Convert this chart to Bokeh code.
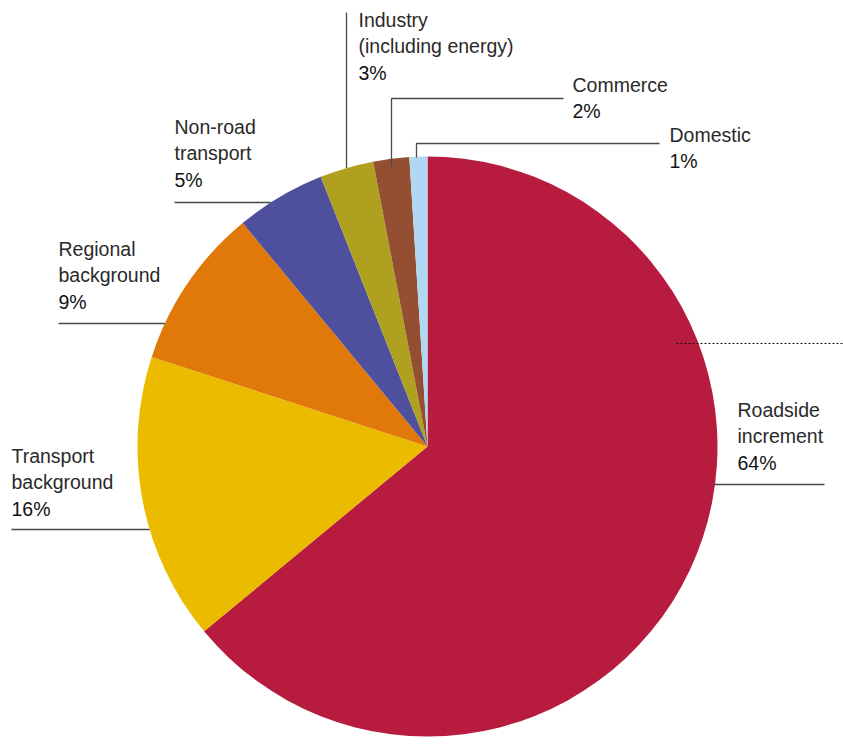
import math
from bokeh.plotting import figure
from bokeh.models import Range1d, ColumnDataSource
from bokeh.core.properties import value
from bokeh.embed import file_html
from bokeh.resources import INLINE

# ---- data ----
categories = ["Roadside increment", "Transport background", "Regional background",
              "Non-road transport", "Industry (including energy)", "Commerce", "Domestic"]
label_lines = [["Roadside", "increment"], ["Transport", "background"], ["Regional", "background"],
               ["Non-road", "transport"], ["Industry", "(including energy)"], ["Commerce"], ["Domestic"]]
shares = [64, 16, 9, 5, 3, 2, 1]
colors = ["#B71C3F", "#EBBB00", "#E0790A", "#4F509D", "#AFA020", "#944F32", "#B0D8F2"]

W, H = 843, 747
def fx(px):
    return px
def fy(py):
    return H - py

p = figure(width=W, height=H, x_range=Range1d(0, W), y_range=Range1d(0, H),
           output_backend="svg", toolbar_location=None, min_border=0)
p.axis.visible = False
p.grid.visible = False
p.outline_line_color = None
p.background_fill_color = "white"

cx, cy, r = fx(427), fy(446), 290
total = sum(shares)
starts, ends = [], []
c = 0
for v in shares:
    starts.append(math.pi / 2 - 2 * math.pi * c / total)
    c += v
    ends.append(math.pi / 2 - 2 * math.pi * c / total)

src = ColumnDataSource(dict(start=starts, end=ends, color=colors, cat=categories))
p.wedge(x=cx, y=cy, radius=r, start_angle="start", end_angle="end", direction="clock",
        fill_color="color", line_color=None, source=src)

def edge_y(px):
    dx = px - 427
    return 446 - math.sqrt(r * r - dx * dx)

def edge_x_left(py):
    dy = py - 446
    return 427 - math.sqrt(r * r - dy * dy)

lc = "#4a4a4a"
lw = 1.3
segs = [
    ([713, 824], [484, 484]),
    ([11, edge_x_left(529)], [529, 529]),
    ([58, edge_x_left(323)], [323, 323]),
    ([174, edge_x_left(202)], [202, 202]),
    ([346, 346], [12, edge_y(346)]),
    ([563, 391, 391], [98, 98, 166]),
    ([659, 416, 416], [143, 143, 157]),
]
for xs, ys in segs:
    p.line([fx(x) for x in xs], [fy(y) for y in ys], line_color=lc, line_width=lw)

p.line([fx(676), fx(843)], [fy(343), fy(343)], line_color="#111111", line_width=1, line_dash="2 2")

anchors = [(737, 409), (11, 455), (58, 248), (174, 126), (358, 19), (572, 84), (669, 134)]
spacing = 26.5
font = value("Liberation Sans")
for (ax, ay), lines, v in zip(anchors, label_lines, shares):
    ys = [ay + i * spacing for i in range(len(lines))]
    p.text(x=[fx(ax)] * len(lines), y=[fy(y) for y in ys], text=lines,
           text_font=font, text_font_size="19.5px", text_color="#2a2a2a",
           text_baseline="alphabetic", text_align="left")
    py = ay + len(lines) * spacing
    p.text(x=[fx(ax)], y=[fy(py)], text=[f"{v}%"],
           text_font=font, text_font_size="19.5px", text_color="#111111",
           text_baseline="alphabetic", text_align="left")

open("out.html", "w").write(file_html(p, INLINE))
